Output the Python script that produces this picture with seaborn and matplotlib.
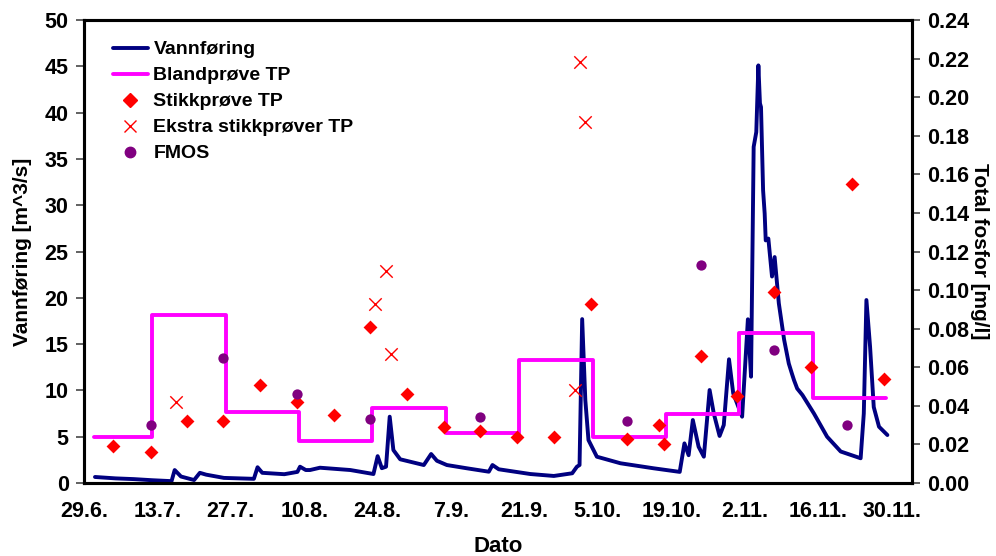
import numpy as np
import pandas as pd
import seaborn as sns
import matplotlib.pyplot as plt
from matplotlib.lines import Line2D

# days after 29.6.
tick_days = [0, 14, 28, 42, 56, 70, 84, 98, 112, 126, 140, 154]
tick_labels = ['29.6.', '13.7.', '27.7.', '10.8.', '24.8.', '7.9.', '21.9.',
               '5.10.', '19.10.', '2.11.', '16.11.', '30.11.']

# Vannføring [m^3/s]
flow_day = [2.1, 6, 9.5, 13, 16.7, 17.3, 18.5, 21.0, 22.1, 23.3, 26.7, 32.4, 33.1,
            34.0, 38.2, 40.7, 41.2, 42.3, 43.1, 45.0, 50.8, 55.2, 56.0, 56.8, 57.6,
            58.3, 59.0, 60.3, 64.8, 66.2, 67.3, 69.2, 73.0, 77.2, 77.9, 79.1, 85.1,
            89.6, 93.1, 94.0, 94.5, 95.0, 95.6, 96.2, 97.8, 102.3, 108.6, 113.6,
            114.5, 115.3, 116.1, 117.2, 118.2, 119.3, 120.1, 121.2, 122.0, 123.0,
            123.8, 125.5, 126.6, 127.2, 127.7, 128.2, 128.6, 128.9, 129.1, 129.5,
            129.8, 130.0, 130.5, 131.2, 131.7, 132.5, 133.5, 134.4, 135.0, 135.4,
            136.0, 137.0, 139.2, 141.7, 144.3, 148.1, 148.7, 149.2, 149.9, 150.6,
            151.6, 153.2]
flow = [0.65, 0.5, 0.42, 0.3, 0.2, 1.4, 0.7, 0.32, 1.1, 0.9, 0.55, 0.45, 1.7,
        1.1, 0.95, 1.2, 1.76, 1.4, 1.4, 1.65, 1.4, 0.97, 2.9, 1.6, 1.76,
        7.16, 3.56, 2.56, 1.94, 3.13, 2.4, 1.94, 1.59, 1.22, 1.94, 1.48, 0.97,
        0.76, 1.05, 1.76, 1.94, 17.7, 8.96, 4.64, 2.84, 2.13, 1.59, 1.2,
        4.28, 3.0, 6.8, 3.92, 2.84, 10.04, 7.5, 5.08, 6.26, 13.36,
        9.69, 7.16, 17.68, 11.48, 36.3, 37.9, 45.1, 41.0, 40.6, 31.6,
        29.1, 26.2, 26.4, 22.3, 24.4, 19.4, 15.5, 12.9, 11.8, 11.1,
        10.2, 9.5, 7.5, 5.0, 3.4, 2.67, 7.5, 19.76, 14.7, 8.2,
        6.08, 5.18]

# Blandprøve TP [mg/l], periods
bland_edges = [2, 13, 27, 41, 55, 69, 83, 97, 111, 125, 139, 153]
bland_tp = [0.024, 0.087, 0.037, 0.022, 0.039, 0.026, 0.064, 0.024, 0.036, 0.078, 0.044]

# Stikkprøve TP
stikk_day = [5.6, 12.7, 19.7, 26.6, 33.6, 40.6, 47.6, 54.6, 61.6, 68.6, 75.6, 82.6,
             89.6, 96.6, 103.6, 109.6, 110.6, 117.6, 124.6, 131.6, 138.6, 146.5, 152.5]
stikk_tp = [0.019, 0.016, 0.032, 0.032, 0.051, 0.042, 0.035, 0.081, 0.046, 0.029,
            0.027, 0.024, 0.024, 0.093, 0.023, 0.030, 0.020, 0.066, 0.045, 0.099,
            0.060, 0.155, 0.054]

# Ekstra stikkprøver TP
ekstra_day = [17.6, 55.5, 57.6, 58.6, 93.6, 94.5, 95.6]
ekstra_tp = [0.042, 0.093, 0.110, 0.067, 0.048, 0.218, 0.187]

# FMOS
fmos_day = [12.7, 26.6, 40.6, 54.6, 75.6, 103.6, 117.6, 131.6, 145.5]
fmos_tp = [0.030, 0.065, 0.046, 0.033, 0.034, 0.032, 0.113, 0.069, 0.030]

sns.set_style('white')
plt.rcParams['font.family'] = ['Liberation Sans', 'DejaVu Sans']
plt.rcParams['font.weight'] = 'bold'
plt.rcParams['text.color'] = 'black'
plt.rcParams['axes.labelcolor'] = 'black'

fig = plt.figure(figsize=(9.96, 5.56), dpi=100)
ax = fig.add_axes([0.0843, 0.1313, 0.8314, 0.8327])
ax2 = ax.twinx()

navy = '#000080'
magenta = '#FF00FF'
red = '#FF0000'
purple = '#800080'

flow_df = pd.DataFrame({'dag': flow_day, 'q': flow})
sns.lineplot(data=flow_df, x='dag', y='q', ax=ax, color=navy, linewidth=2.8,
             estimator=None, sort=False)

bland_df = pd.DataFrame({'dag': bland_edges, 'tp': bland_tp + [bland_tp[-1]]})
sns.lineplot(data=bland_df, x='dag', y='tp', ax=ax2, color=magenta, linewidth=2.8,
             drawstyle='steps-post', estimator=None, sort=False)

sns.scatterplot(x=stikk_day, y=stikk_tp, ax=ax2, marker='D', color=red, s=50,
                linewidth=0, zorder=4)
sns.scatterplot(x=ekstra_day, y=ekstra_tp, ax=ax2, marker='x', color=red, s=80,
                linewidth=1.0, zorder=4)
sns.scatterplot(x=fmos_day, y=fmos_tp, ax=ax2, marker='o', color=purple, s=55,
                linewidth=0, zorder=4)

ax.set_xlim(0, 157.9)
ax.set_ylim(0, 50)
ax2.set_ylim(0, 0.24)
ax.set_xticks(tick_days)
ax.set_xticklabels(tick_labels)
ax.set_yticks(np.arange(0, 51, 5))
ax2.set_yticks(np.arange(0, 0.241, 0.02))
ax2.set_yticklabels([f'{v:.2f}' for v in np.arange(0, 0.241, 0.02)])

tfs = 15.5
lfs = 15
ax.set_xlabel('Dato', fontsize=16, fontweight='bold', labelpad=10)
ax.set_ylabel('Vannføring [m^3/s]', fontsize=lfs, fontweight='bold', labelpad=9)
ax2.set_ylabel('Total fosfor [mg/l]', fontsize=lfs, fontweight='bold',
               rotation=270, labelpad=14)

for a in (ax, ax2):
    a.tick_params(axis='both', labelsize=tfs, width=1.3, length=6, direction='out',
                  color='#555555', labelcolor='black')
    for lab in a.get_xticklabels() + a.get_yticklabels():
        lab.set_fontweight('bold')
    for sp in a.spines.values():
        sp.set_linewidth(2.2)
        sp.set_color('black')
ax.tick_params(axis='x', pad=7)
ax.tick_params(axis='y', pad=5)
ax2.tick_params(axis='y', pad=5)
ax.grid(False)
ax2.grid(False)

handles = [
    Line2D([], [], color=navy, linewidth=2.8),
    Line2D([], [], color=magenta, linewidth=2.8),
    Line2D([], [], color=red, marker='D', linestyle='none', markersize=7),
    Line2D([], [], color=red, marker='x', linestyle='none', markersize=9,
           markeredgewidth=1.0),
    Line2D([], [], color=purple, marker='o', linestyle='none', markersize=7.5),
]
labels = ['Vannføring', 'Blandprøve TP', 'Stikkprøve TP', 'Ekstra stikkprøver TP', 'FMOS']
leg = ax2.legend(handles, labels, loc='upper left', bbox_to_anchor=(0.035, 0.955),
                 frameon=False, fontsize=14, handlelength=1.8, handletextpad=0.28,
                 labelspacing=0.43, borderaxespad=0, borderpad=0)
for t in leg.get_texts():
    t.set_fontweight('bold')

fig.savefig('out.png', dpi=100)
